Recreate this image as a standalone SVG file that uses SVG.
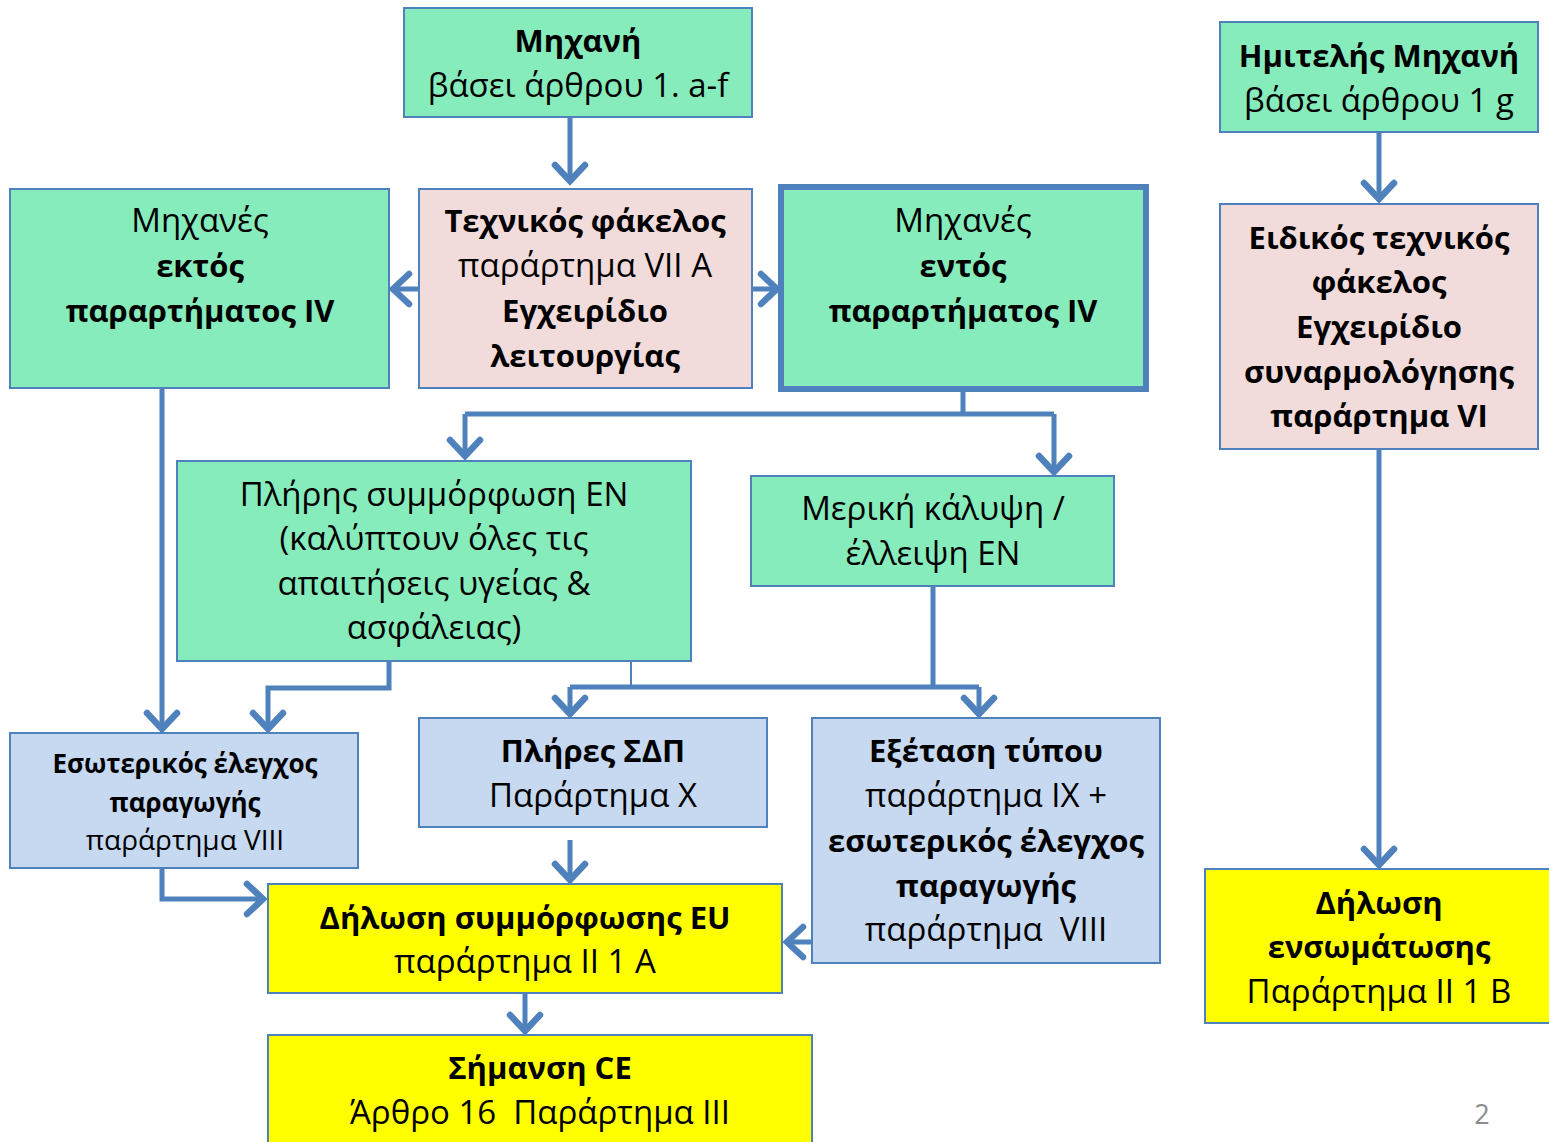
<svg xmlns="http://www.w3.org/2000/svg" width="1549" height="1142" viewBox="0 0 1549 1142">
<defs>
<style>
.box{stroke:#4F81BD;stroke-width:2}
.g{fill:#87ECBC}.p{fill:#F2DCDB}.b{fill:#C6D9F1}.y{fill:#FFFF00}
text{font-family:"Open Sans","Noto Sans",sans-serif;font-size:33px;fill:#000;text-anchor:middle}
.bd{font-weight:bold;font-size:31px}
.sm{font-size:28px}
.bd.sm{font-size:26px}
.c{fill:none;stroke:#4F81BD;stroke-width:5}
.a{marker-end:url(#ah)}
</style>
<marker id="ah" markerUnits="userSpaceOnUse" markerWidth="40" markerHeight="40" refX="0" refY="0" viewBox="-25 -20 30 40" orient="auto">
<path d="M-16 -15 L0 0 L-16 15" fill="none" stroke="#4F81BD" stroke-width="6.5" stroke-linecap="round" stroke-linejoin="miter"/>
</marker>
</defs>
<rect width="1549" height="1142" fill="#fff"/>

<g id="connectors">
<path class="c a" d="M570 117 V181"/>
<path class="c a" d="M419 289 H393"/>
<path class="c a" d="M752 289 H777"/>
<path class="c" d="M963 389 V414 M465 414 H1054"/>
<path class="c a" d="M465 414 V456"/>
<path class="c a" d="M1054 414 V472"/>
<path class="c a" d="M162 388 V729"/>
<path class="c a" d="M389 661 V688 H268 V729"/>
<path d="M631 658 V688" fill="none" stroke="#4F81BD" stroke-width="2"/>
<path class="c" d="M933 586 V687 M570 687 H979"/>
<path class="c a" d="M570 687 V714"/>
<path class="c a" d="M979 687 V714"/>
<path class="c a" d="M162 868 V899 H263"/>
<path class="c a" d="M570 840 V880"/>
<path class="c a" d="M812 942 H787"/>
<path class="c a" d="M525 993 V1031"/>
<path class="c a" d="M1379 132 V199"/>
<path class="c a" d="M1379 449 V865"/>
</g>

<g id="n-michani">
<rect class="box g" x="404" y="8" width="348" height="109"/>
<text class="bd" x="578" y="52">Μηχανή</text>
<text x="578" y="97">βάσει άρθρου 1. a-f</text>
</g>

<g id="n-imiteli">
<rect class="box g" x="1220" y="22" width="318" height="110"/>
<text class="bd" x="1379" y="67">Ημιτελής Μηχανή</text>
<text x="1379" y="112">βάσει άρθρου 1 g</text>
</g>

<g id="n-ektos">
<rect class="box g" x="10" y="189" width="379" height="199"/>
<text x="200" y="232">Μηχανές</text>
<text class="bd" x="200" y="277">εκτός</text>
<text class="bd" x="200" y="322">παραρτήματος IV</text>
</g>

<g id="n-texnikos">
<rect class="box p" x="419" y="189" width="333" height="199"/>
<text class="bd" x="585" y="232">Τεχνικός φάκελος</text>
<text x="585" y="277">παράρτημα VII A</text>
<text class="bd" x="585" y="322">Εγχειρίδιο</text>
<text class="bd" x="585" y="367">λειτουργίας</text>
</g>

<g id="n-entos">
<rect class="g" x="781" y="187" width="365" height="202" stroke="#4F81BD" stroke-width="6"/>
<text x="963" y="232">Μηχανές</text>
<text class="bd" x="963" y="277">εντός</text>
<text class="bd" x="963" y="322">παραρτήματος IV</text>
</g>

<g id="n-eidikos">
<rect class="box p" x="1220" y="204" width="318" height="245"/>
<text class="bd" x="1379" y="249">Ειδικός τεχνικός</text>
<text class="bd" x="1379" y="293">φάκελος</text>
<text class="bd" x="1379" y="338">Εγχειρίδιο</text>
<text class="bd" x="1379" y="383">συναρμολόγησης</text>
<text class="bd" x="1379" y="427">παράρτημα VI</text>
</g>

<g id="n-pliris">
<rect class="box g" x="177" y="461" width="514" height="200"/>
<text x="434" y="506">Πλήρης συμμόρφωση EN</text>
<text x="434" y="550">(καλύπτουν όλες τις</text>
<text x="434" y="595">απαιτήσεις υγείας &amp;</text>
<text x="434" y="639">ασφάλειας)</text>
</g>

<g id="n-meriki">
<rect class="box g" x="751" y="476" width="363" height="110"/>
<text x="933" y="520">Μερική κάλυψη /</text>
<text x="933" y="565">έλλειψη EN</text>
</g>

<g id="n-esoterikos">
<rect class="box b" x="10" y="733" width="348" height="135"/>
<text class="bd sm" x="185" y="773">Εσωτερικός έλεγχος</text>
<text class="bd sm" x="185" y="812">παραγωγής</text>
<text class="sm" x="185" y="850">παράρτημα VIII</text>
</g>

<g id="n-sdp">
<rect class="box b" x="419" y="718" width="348" height="109"/>
<text class="bd" x="593" y="762">Πλήρες ΣΔΠ</text>
<text x="593" y="807">Παράρτημα X</text>
</g>

<g id="n-exetasi">
<rect class="box b" x="812" y="718" width="348" height="245"/>
<text class="bd" x="986" y="762">Εξέταση τύπου</text>
<text x="986" y="807">παράρτημα IX +</text>
<text class="bd" x="986" y="852">εσωτερικός έλεγχος</text>
<text class="bd" x="986" y="897">παραγωγής</text>
<text x="986" y="941" xml:space="preserve">παράρτημα  VIII</text>
</g>

<g id="n-dilosi-eu">
<rect class="box y" x="268" y="884" width="514" height="109"/>
<text class="bd" x="525" y="929">Δήλωση συμμόρφωσης EU</text>
<text x="525" y="973">παράρτημα II 1 A</text>
</g>

<g id="n-simansi">
<rect class="box y" x="268" y="1035" width="544" height="115"/>
<text class="bd" x="540" y="1079">Σήμανση CE</text>
<text x="540" y="1124" xml:space="preserve">Άρθρο 16  Παράρτημα III</text>
</g>

<g id="n-dilosi-ens">
<rect class="box y" x="1205" y="869" width="352" height="154"/>
<text class="bd" x="1379" y="914">Δήλωση</text>
<text class="bd" x="1379" y="958">ενσωμάτωσης</text>
<text x="1379" y="1003">Παράρτημα II 1 B</text>
</g>

<text x="1482" y="1124" style="font-size:27px;fill:#8C8C8C">2</text>
</svg>
